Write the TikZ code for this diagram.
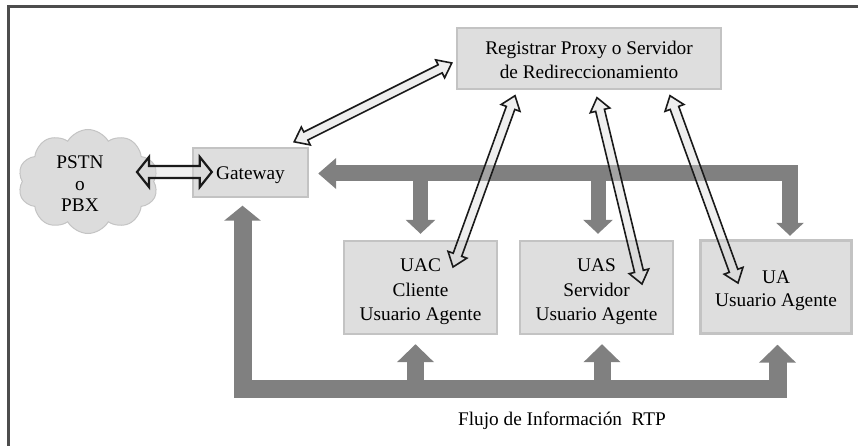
\documentclass[tikz,border=0pt]{standalone}
\usepackage{fontspec}
\setmainfont{Liberation Serif}
\usetikzlibrary{arrows.meta,calc,shapes.symbols}

\definecolor{boxfill}{HTML}{DEDEDE}
\definecolor{boxedge}{HTML}{C3C3C3}
\definecolor{busgray}{HTML}{808080}
\definecolor{cloudfill}{HTML}{DCDCDC}
\definecolor{cloudedge}{HTML}{C4C4C4}
\definecolor{framegray}{HTML}{4D4D4D}
\definecolor{hollowfill}{HTML}{D8D8D8}
\definecolor{hollowedge}{HTML}{1A1A1A}

% invisible strut that pushes a centred text block downwards
\newcommand\toppad[1]{\rule{0pt}{#1}}

% Outlined double-headed arrow from #2 to #3 (#1: extra options):
% #4 half shaft width, #5 half head width, #6 head length (all in pt)
\newcommand\hollowarr[6][]{%
  \path let \p1=($(#3)-(#2)$) in \pgfextra{%
    \pgfmathsetmacro\harrang{atan2(\y1,\x1)}%
    \pgfmathsetmacro\harrlen{veclen(\x1,\y1)}%
    \global\let\harrang\harrang
    \global\let\harrlen\harrlen};
  \filldraw[hollow, #1, shift={(#2)}, rotate=\harrang]
    (0pt,0pt) -- (#6pt,#5pt) -- (#6pt,#4pt)
    -- ({\harrlen pt-#6pt},#4pt) -- ({\harrlen pt-#6pt},#5pt)
    -- ({\harrlen pt},0pt)
    -- ({\harrlen pt-#6pt},-#5pt) -- ({\harrlen pt-#6pt},-#4pt)
    -- (#6pt,-#4pt) -- (#6pt,-#5pt) -- cycle;
}

\begin{document}
\begin{tikzpicture}[x=1pt,y=-1pt,
  every node/.style={font=\fontsize{19.3}{24.5}\selectfont},
  unit/.style={draw=boxedge, fill=boxfill, line width=2.4pt,
    align=center, inner sep=0pt},
  bus/.style={draw=busgray},
  hollow/.style={draw=hollowedge, fill=hollowfill, fill opacity=0.4,
    line width=1.6pt, line join=miter},
  frameline/.style={draw=framegray, line width=2.6pt}]

\useasboundingbox (0,0) rectangle (861,446);

% outer frame (top and left edges)
\draw[frameline] (8.3,446) -- (8.3,6.5) -- (858,6.5);

% network cloud
\node[cloud, cloud puffs=10, cloud puff arc=120, aspect=1.35,
      minimum width=140pt, minimum height=104pt,
      fill=cloudfill, draw=cloudedge, line width=1pt] (pstn) at (88,181.5) {};
\node[align=center, font=\fontsize{19.3}{21.5}\selectfont] (pstntext) at (80,184) {PSTN\\o\\PBX};

% boxes
\node[unit, minimum width=115pt, minimum height=49pt] (gw) at (250.5,172.5)
  {\toppad{18pt}Gateway};
\node[unit, minimum width=264pt, minimum height=61pt] (reg) at (589,58.5)
  {\toppad{16pt}Registrar Proxy o Servidor\\de Redireccionamiento};
\node[unit, minimum width=153pt, minimum height=93pt] (uac) at (420.5,287.5)
  {\toppad{22pt}UAC\\Cliente\\Usuario Agente};
\node[unit, minimum width=153pt, minimum height=93pt] (uas) at (596.5,287.5)
  {\toppad{22pt}UAS\\Servidor\\Usuario Agente};
\node[unit, minimum width=151pt, minimum height=93pt] (ua) at (776,287)
  {\toppad{21pt}UA\\[-1.5pt]Usuario Agente};

% signalling bus above the user agents
\coordinate (upL) at ($(gw.east)+(9,1)$);
\coordinate (upR) at ($(ua.north)+(14,-3.5)$);
\draw[bus, line width=16pt,
      {Triangle[width=30pt,length=18pt]}-{Triangle[width=27pt,length=13pt]}]
  (upL) -- (upL -| upR) -- (upR);
\draw[bus, line width=15pt, -{Triangle[width=29pt,length=14pt]}]
  (uac.north |- upL) -- ($(uac.north)+(0,-6)$);
\draw[bus, line width=15pt, -{Triangle[width=29pt,length=14pt]}]
  ($(uas.north |- upL)+(1.5,0)$) -- ($(uas.north)+(1.5,-6)$);

% RTP media bus below the user agents
\coordinate (gwUp) at ($(gw.south)+(-8,7.5)$);
\coordinate (uaUp) at ($(ua.south)+(1.5,10)$);
\coordinate (floor) at (500,388.5);
\draw[bus, line width=18pt,
      {Triangle[width=36pt,length=18pt]}-{Triangle[width=36pt,length=15pt]}]
  (uaUp) -- (uaUp |- floor) -- (gwUp |- floor) -- (gwUp);
\draw[bus, line width=17pt, -{Triangle[width=36pt,length=18pt]}]
  ($(uac.south |- floor)+(-5,0)$) -- ($(uac.south)+(-5,9)$);
\draw[bus, line width=17pt, -{Triangle[width=36pt,length=18pt]}]
  ($(uas.south |- floor)+(5.5,0)$) -- ($(uas.south)+(5.5,9)$);

\node (rtp) at (562,421) {Flujo de Información\ \ RTP};

% signalling links (outlined double arrows)
\coordinate (pA) at ($(pstn.center)+(49,-9.5)$);
\coordinate (pB) at ($(gw.west)+(20,-0.5)$);
\hollowarr[line width=2.2pt]{pA}{pB}{6}{15}{12}

\coordinate (gA) at ($(gw.north east)+(-15,-5)$);
\coordinate (gB) at ($(reg.west)+(-4,4.5)$);
\hollowarr{gA}{gB}{4.5}{10}{13}

\coordinate (r1) at ($(reg.south)+(-74,5.5)$);
\coordinate (c1) at ($(uac.center)+(32.5,-20.5)$);
\hollowarr{r1}{c1}{4.5}{10}{13}

\coordinate (r2) at ($(reg.south)+(8,7.5)$);
\coordinate (c2) at ($(uas.center)+(45.5,-3.5)$);
\hollowarr{r2}{c2}{4.5}{10}{13}

\coordinate (r3) at ($(reg.south)+(81,5.5)$);
\coordinate (c3) at ($(ua.center)+(-38,-4)$);
\hollowarr{r3}{c3}{4.5}{10}{13}

\end{tikzpicture}
\end{document}
